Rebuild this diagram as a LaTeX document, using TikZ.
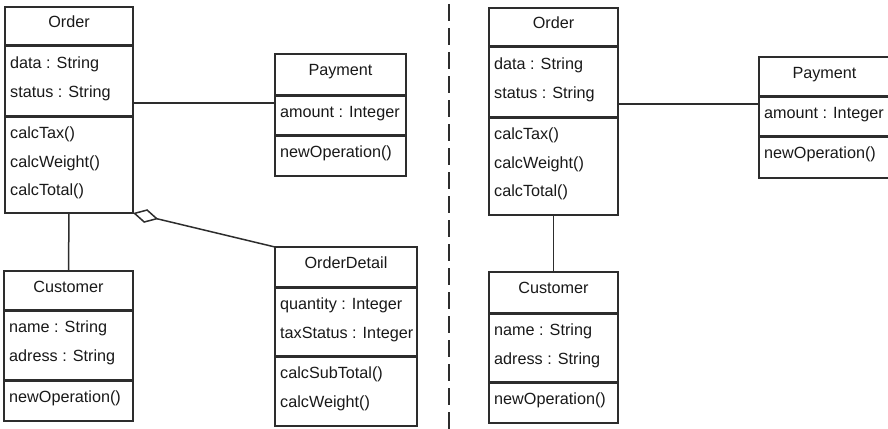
\documentclass[tikz,border=0pt]{standalone}
\usepackage{fontspec}
\setmainfont{Liberation Sans}
\usetikzlibrary{arrows.meta}

\begin{document}
\begin{tikzpicture}[
    x=1pt, y=-1pt,
    % Compartimentos de cada clase
    compartment/.style={
        draw=umlline, line width=1.5pt, fill=white,
        inner sep=0pt, outer sep=0pt, anchor=north west
    },
    % Separadores gruesos entre compartimentos
    divider/.style={umlline, line width=3pt},
    % Textos
    classtitle/.style={anchor=base, inner sep=0pt, text=umltext,
        font=\fontsize{16.2}{20}\selectfont},
    member/.style={anchor=base west, inner sep=0pt, text=umltext,
        font=\fontsize{16.2}{20}\selectfont},
    % Conectores
    assoc/.style={umlline, line width=1.5pt},
    aggregation/.style={assoc, {Diamond[open, length=26pt, width=14pt]}-}
]
    % Configuración de colores
    \definecolor{umlline}{RGB}{45, 45, 45}
    \definecolor{umltext}{RGB}{25, 25, 25}

    % Parámetros generales
    \def\firstline{22.5} % Línea base del primer miembro
    \def\linestep{28.5}  % Espaciado entre miembros

    % Marco de la figura
    \clip (0,0) rectangle (888,428);

    % Cajas de las clases
    % Parámetros: {nombre / x / y / ancho / alto nombre / alto atributos / alto operaciones}
    \foreach \cls/\x/\y/\w/\ha/\hb/\hc in {
        ordL/5/7/128/39/70/97,
        payL/275/54/131/41/40/41,
        cusL/4/271/129/39/70/41,
        detL/275/247/142/40/69/70,
        ordR/489/8/129/39/70/98,
        payR/759/57/131/39/40/42,
        cusR/489/272/129/41/69/41
    }{
        \node[compartment, minimum width=\w pt, minimum height=\ha pt] (\cls-name) at (\x,\y) {};
        \node[compartment, minimum width=\w pt, minimum height=\hb pt] (\cls-attr) at (\cls-name.south west) {};
        \node[compartment, minimum width=\w pt, minimum height=\hc pt] (\cls-ops) at (\cls-attr.south west) {};

        \draw[divider] (\cls-name.south west) -- (\cls-name.south east);
        \draw[divider] (\cls-attr.south west) -- (\cls-attr.south east);
    }

    % Nombres de las clases
    \foreach \cls/\txt in {ordL/Order, payL/Payment, cusL/Customer, detL/OrderDetail,
                           ordR/Order, payR/Payment, cusR/Customer}{
        \node[classtitle] (\cls-title) at ([yshift=-21pt]\cls-name.north) {\txt};
    }

    % Atributos y operaciones, una línea por nodo
    \foreach \cls/\attrs/\ops in {
        ordL/{data : String, status : String}/{calcTax(), calcWeight(), calcTotal()},
        payL/{amount : Integer}/{newOperation()},
        cusL/{name : String, adress : String}/{newOperation()},
        detL/{quantity : Integer, taxStatus : Integer}/{calcSubTotal(), calcWeight()},
        ordR/{data : String, status : String}/{calcTax(), calcWeight(), calcTotal()},
        payR/{amount : Integer}/{newOperation()},
        cusR/{name : String, adress : String}/{newOperation()}
    }{
        \foreach \ln [count=\k] in \attrs
            \node[member] (\cls-a\k) at ([xshift=5pt, yshift={-(\firstline+\linestep*(\k-1))*1pt}]\cls-attr.north west) {\ln};
        \foreach \ln [count=\k] in \ops
            \node[member] (\cls-o\k) at ([xshift=5pt, yshift={-(\firstline+\linestep*(\k-1))*1pt}]\cls-ops.north west) {\ln};
    }

    % Asociaciones Order -- Payment
    \coordinate (payL-in) at ([yshift=-8pt]payL-attr.north west);
    \coordinate (payR-in) at ([yshift=-8pt]payR-attr.north west);
    \draw[assoc] (ordL-attr.east |- payL-in) -- (payL-in);
    \draw[assoc] (ordR-attr.east |- payR-in) -- (payR-in);

    % Asociaciones Order -- Customer
    \draw[assoc] (ordL-ops.south) -- (cusL-name.north);
    \draw[assoc] (ordR-ops.south) -- (cusR-name.north);

    % Agregación Order <>-- OrderDetail
    \draw[aggregation] (ordL-ops.south east) -- (detL-name.north west);

    % Separador vertical
    \coordinate (sepTop) at (449,4);
    \coordinate (sepBot) at (449,430);
    \draw[umlline, line width=2.2pt, dash pattern=on 17pt off 7pt] (sepTop) -- (sepBot);
\end{tikzpicture}
\end{document}
